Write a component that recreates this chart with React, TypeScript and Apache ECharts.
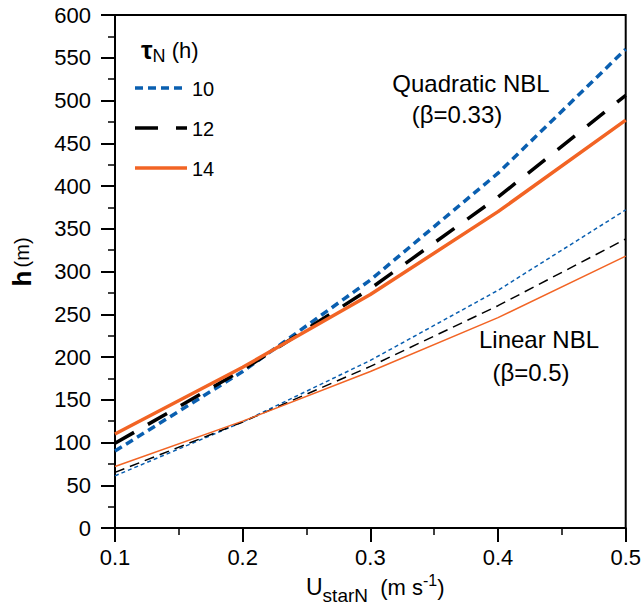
import React, { useEffect, useRef } from "react";
import * as echarts from "echarts";

const uStar = [0.1, 0.2, 0.3, 0.4, 0.5];
const quad10 = [90, 183, 290, 415, 560];
const quad12 = [99, 185, 280, 387, 506];
const quad14 = [110, 188, 273, 370, 477];
const lin10 = [61, 124, 196, 278, 372];
const lin12 = [65, 124, 189, 260, 338];
const lin14 = [72, 125, 183, 246, 318];
const tauLabels = ["10", "12", "14"];

const BLUE = "#0a5fb0";
const BLACK = "#000000";
const ORANGE = "#f26424";
const FONT = "Liberation Sans, Arial, Helvetica, sans-serif";

const pairs = (ys: number[]) => uStar.map((x, i) => [x, ys[i]]);

export default function App() {
  const ref = useRef<HTMLDivElement>(null);
  useEffect(() => {
    if (!ref.current) return;
    const chart = echarts.init(ref.current, null, { renderer: "svg" });
    const line = (name: string, data: number[], color: string, width: number, type: any, z: number) => ({
      name,
      type: "line",
      data: pairs(data),
      symbol: "none",
      z,
      lineStyle: { color, width, type, cap: "butt", join: "round" },
      itemStyle: { color },
    });
    const legendStyles = [
      { color: BLUE, dash: [8, 5] },
      { color: BLACK, dash: [23, 18] },
      { color: ORANGE, dash: null },
    ];
    const legendGraphics: any[] = [];
    tauLabels.forEach((lab, i) => {
      const y = 88 + i * 40;
      const st = legendStyles[i];
      legendGraphics.push({
        type: "line",
        shape: { x1: 135, y1: y, x2: 187, y2: y },
        style: { stroke: st.color, lineWidth: 3.5, lineDash: st.dash || undefined, lineCap: "butt" },
      });
      legendGraphics.push({
        type: "text",
        x: 192,
        y: y + 1,
        style: { text: lab, fontSize: 20, fontFamily: FONT, fill: "#000", align: "left", verticalAlign: "middle" },
      });
    });
    chart.setOption({
      animation: false,
      textStyle: { fontFamily: FONT },
      grid: {
        left: 115,
        top: 15,
        right: 16,
        bottom: 86,
        show: true,
        borderColor: "#000",
        borderWidth: 2,
      },
      xAxis: {
        type: "value",
        min: 0.1,
        max: 0.5,
        interval: 0.1,
        splitLine: { show: false },
        axisLine: { show: true, lineStyle: { color: "#000", width: 2 } },
        axisTick: { show: true, length: 14, lineStyle: { color: "#000", width: 2 } },
        minorTick: { show: true, splitNumber: 2, length: 7, lineStyle: { color: "#000", width: 1.5 } },
        axisLabel: {
          color: "#000",
          fontSize: 22,
          margin: 18,
          fontFamily: FONT,
          formatter: (v: number) => v.toFixed(1),
        },
      },
      yAxis: {
        type: "value",
        min: 0,
        max: 600,
        interval: 50,
        splitLine: { show: false },
        axisLine: { show: true, lineStyle: { color: "#000", width: 2 } },
        axisTick: { show: true, length: 14, lineStyle: { color: "#000", width: 2 } },
        minorTick: { show: true, splitNumber: 2, length: 7, lineStyle: { color: "#000", width: 1.5 } },
        axisLabel: { color: "#000", fontSize: 22, margin: 24, fontFamily: FONT },
      },
      series: [
        line("lin10", lin10, BLUE, 1.5, [4, 3], 2),
        line("lin12", lin12, BLACK, 1.5, [10, 6], 3),
        line("lin14", lin14, ORANGE, 1.5, "solid", 4),
        line("10", quad10, BLUE, 3.5, [8, 5], 5),
        line("12", quad12, BLACK, 3.5, [22, 16], 6),
        line("14", quad14, ORANGE, 3.5, "solid", 7),
      ],
      graphic: [
        ...legendGraphics,
        {
          type: "text",
          left: 141,
          top: 37,
          style: {
            text: "{t|τ}{n|N}{h| (h)}",
            rich: {
              t: { fontSize: 26, fontWeight: "bold", fontFamily: FONT, fill: "#000" },
              n: { fontSize: 18, fontFamily: FONT, fill: "#000", padding: [12, 0, 0, 0] },
              h: { fontSize: 22, fontFamily: FONT, fill: "#000" },
            },
          },
        },
        {
          type: "text",
          x: 471,
          y: 83,
          style: { text: "Quadratic NBL", fontSize: 24, fontFamily: FONT, fill: "#000", align: "center", verticalAlign: "middle" },
        },
        {
          type: "text",
          x: 457,
          y: 114,
          style: { text: "(β=0.33)", fontSize: 24, fontFamily: FONT, fill: "#000", align: "center", verticalAlign: "middle" },
        },
        {
          type: "text",
          x: 539,
          y: 339,
          style: { text: "Linear NBL", fontSize: 24, fontFamily: FONT, fill: "#000", align: "center", verticalAlign: "middle" },
        },
        {
          type: "text",
          x: 531,
          y: 372,
          style: { text: "(β=0.5)", fontSize: 24, fontFamily: FONT, fill: "#000", align: "center", verticalAlign: "middle" },
        },
        {
          type: "text",
          x: 22,
          y: 262,
          rotation: Math.PI / 2,
          style: {
            text: "{b|h} {n|(m)}",
            align: "center",
            verticalAlign: "middle",
            rich: {
              b: { fontSize: 26, fontWeight: "bold", fontFamily: FONT, fill: "#000" },
              n: { fontSize: 20, fontFamily: FONT, fill: "#000" },
            },
          },
        },
        {
          type: "text",
          left: 306,
          top: 572,
          style: {
            text: "{u|U}{s|starN}{p|  (m s}{e|-1}{p|)}",
            rich: {
              u: { fontSize: 23, fontFamily: FONT, fill: "#000" },
              s: { fontSize: 19, fontFamily: FONT, fill: "#000", padding: [16, 0, 0, 0] },
              p: { fontSize: 22, fontFamily: FONT, fill: "#000" },
              e: { fontSize: 16, fontFamily: FONT, fill: "#000", padding: [0, 0, 14, 0] },
            },
          },
        },
      ],
    });
    return () => chart.dispose();
  }, []);
  return (
    <div
      ref={ref}
      style={{ position: "absolute", left: 0, top: 0, width: 644, height: 614, background: "#fff" }}
    />
  );
}
